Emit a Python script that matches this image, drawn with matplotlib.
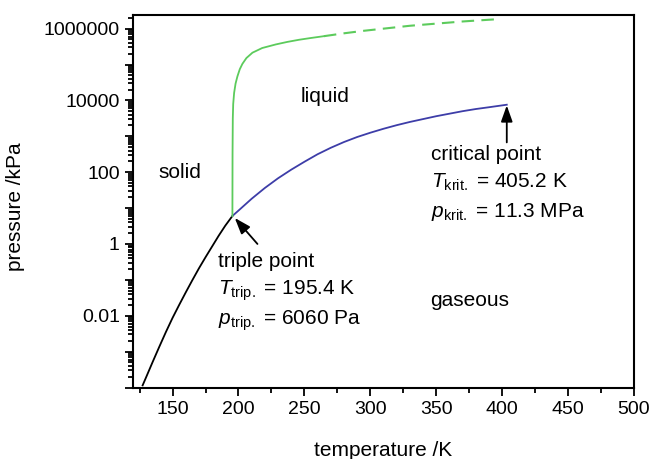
import matplotlib
matplotlib.use('Agg')
import matplotlib.pyplot as plt
from matplotlib.ticker import LogLocator, FuncFormatter, MultipleLocator, NullFormatter
import numpy as np

plt.rcParams['font.family'] = ['Liberation Sans', 'DejaVu Sans']
plt.rcParams['mathtext.fontset'] = 'custom'
plt.rcParams['mathtext.rm'] = 'Liberation Sans'
plt.rcParams['mathtext.it'] = 'Liberation Sans:italic'

# sublimation curve (solid / gas): T in K, log10(p / kPa)
subl_T = [127.3, 130, 135, 140, 145, 150, 155, 160, 165, 170, 175, 180, 185, 190, 195.4]
subl_logp = [-3.94, -3.71, -3.28, -2.86, -2.45, -2.06, -1.70, -1.35, -1.01, -0.68,
             -0.37, -0.07, 0.23, 0.51, 0.78]

# vaporisation curve (liquid / gas)
vap_T = [195.4, 200, 210, 220, 230, 240, 250, 260, 270, 280, 290, 300, 310, 320,
         330, 340, 350, 360, 370, 380, 390, 403.5]
vap_logp = [0.78, 0.93, 1.26, 1.56, 1.83, 2.07, 2.29, 2.50, 2.68, 2.84, 2.98, 3.10,
            3.21, 3.31, 3.40, 3.48, 3.56, 3.63, 3.70, 3.76, 3.81, 3.88]

# melting curve (solid / liquid), measured part and extrapolated part
melt_T = [195.4, 195.5, 195.7, 196.0, 196.7, 197.8, 199.2, 201, 203, 206, 210.6,
          218, 228.3, 237, 245.9, 255, 264.8]
melt_logp = [0.78, 2.5, 3.5, 3.9, 4.21, 4.47, 4.67, 4.87, 5.02, 5.18, 5.33,
             5.46, 5.56, 5.63, 5.69, 5.74, 5.79]
melt_ext_T = [264.8, 280, 295, 310, 330, 350, 370, 395]
melt_ext_logp = [5.79, 5.87, 5.94, 6.00, 6.08, 6.14, 6.20, 6.26]

triple = (195.4, 6.06)       # K, kPa
critical = (403.5, 10 ** 3.88)

green = '#5ccb5c'
blue = '#3d3da8'

fig = plt.figure(figsize=(6.54, 4.59), dpi=100)
ax = fig.add_axes([133 / 654, 1 - 387.5 / 459, 501 / 654, 372.5 / 459])

ax.plot(subl_T, 10 ** np.array(subl_logp), color='black', lw=1.3)
ax.plot(vap_T, 10 ** np.array(vap_logp), color=blue, lw=1.3)
ax.plot(melt_T, 10 ** np.array(melt_logp), color=green, lw=1.3)
ax.plot(melt_ext_T, 10 ** np.array(melt_ext_logp), color=green, lw=1.5,
        linestyle=(0, (6, 3.5)))

ax.set_yscale('log')
ax.set_xlim(120, 500)
ax.set_ylim(1e-4, 2.4e6)


def pressure_label(v, pos):
    e = int(round(np.log10(v)))
    if e % 2 or e < -2:
        return ''
    if e >= 0:
        return str(10 ** e)
    return f"{v:.{-e}f}"


ax.yaxis.set_major_locator(LogLocator(base=10, numticks=20))
ax.yaxis.set_major_formatter(FuncFormatter(pressure_label))
ax.yaxis.set_minor_locator(LogLocator(base=10, subs=np.arange(2, 10), numticks=20))
ax.yaxis.set_minor_formatter(NullFormatter())
ax.xaxis.set_major_locator(MultipleLocator(50))
ax.xaxis.set_minor_locator(MultipleLocator(25))

ax.tick_params(which='both', direction='out', top=False, right=False,
               width=1.3, labelsize=14, colors='black')
ax.tick_params(which='major', length=6)
ax.tick_params(which='minor', length=3.5)
for s in ax.spines.values():
    s.set_linewidth(1.5)

ax.set_xlabel('temperature /K', fontsize=15, labelpad=17)
ax.set_ylabel('pressure /kPa', fontsize=15)
ax.yaxis.set_label_coords(-0.215, 0.485)

fs = 15
ax.text(139.6, 100, 'solid', fontsize=fs, va='center', ha='left')
ax.text(247, 10 ** 4.1, 'liquid', fontsize=fs, va='center', ha='left')
ax.text(345.7, 10 ** -1.57, 'gaseous', fontsize=fs, va='center', ha='left')

ax.text(184.1, 10 ** -0.5, 'triple point', fontsize=fs, va='center', ha='left')
ax.text(184.1, 10 ** -1.3, r'$T_{\mathrm{trip.}}$ = 195.4 K', fontsize=fs,
        va='center', ha='left')
ax.text(184.1, 10 ** -2.13, r'$p_{\mathrm{trip.}}$ = 6060 Pa', fontsize=fs,
        va='center', ha='left')

ax.text(346.4, 10 ** 2.5, 'critical point', fontsize=fs, va='center', ha='left')
ax.text(346.4, 10 ** 1.73, r'$T_{\mathrm{krit.}}$ = 405.2 K', fontsize=fs,
        va='center', ha='left')
ax.text(346.4, 10 ** 0.88, r'$p_{\mathrm{krit.}}$ = 11.3 MPa', fontsize=fs,
        va='center', ha='left')

arrow = dict(arrowstyle='-|>,head_length=0.7,head_width=0.25', color='black',
             lw=1.3, mutation_scale=14, shrinkA=0, shrinkB=0)
ax.annotate('', xy=(197.2, 5.3), xytext=(214.4, 1.0), arrowprops=arrow)
ax.annotate('', xy=(critical[0], 10 ** 3.86), xytext=(critical[0], 10 ** 2.83),
            arrowprops=arrow)

fig.savefig('out.png', dpi=100)
